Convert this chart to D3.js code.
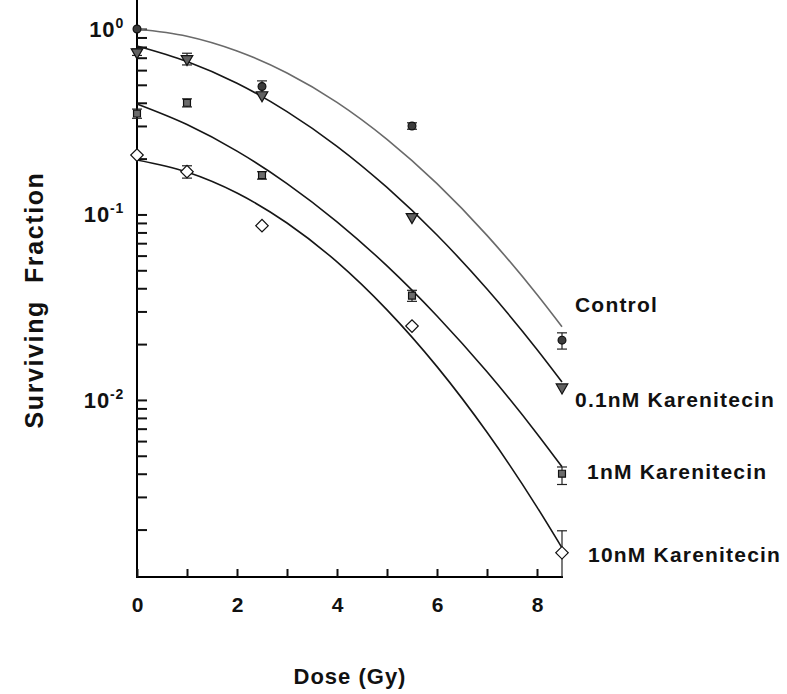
<!DOCTYPE html>
<html>
<head>
<meta charset="utf-8">
<style>
  body { margin: 0; background: #fff; }
  text { font-family: "Liberation Sans", Arial, sans-serif; font-weight: bold; fill: #111; }
</style>
</head>
<body>
<svg id="chart" width="787" height="694"></svg>
<script src="https://cdn.jsdelivr.net/npm/d3@7"></script>
<script>

// measured doses (Gy)
var doses = [0, 1, 2.5, 5.5, 8.5];

var seriesNames = ["Control", "0.1nM Karenitecin", "1nM Karenitecin", "10nM Karenitecin"];

// surviving fraction (null = no point)
var controlSF = [1.0, null, 0.49, 0.30, 0.021];
var nm01SF    = [0.75, 0.69, 0.44, 0.097, 0.0117];
var nm1SF     = [0.35, 0.40, 0.163, 0.0365, 0.0040];
var nm10SF    = [0.209, 0.170, 0.087, 0.025, 0.0015];

// error bar limits [low, high]
var controlErr = [null, null, [0.45, 0.525], [0.288, 0.312], [0.0188, 0.023]];
var nm01Err    = [[0.72, 0.78], [0.64, 0.74], null, null, null];
var nm1Err     = [[0.33, 0.37], [0.38, 0.42], [0.155, 0.17], [0.034, 0.039], [0.0035, 0.00435]];
var nm10Err    = [null, [0.157, 0.183], null, null, [0.0008, 0.00197]];

// fitted curves
var curveDoses = [0, 1, 2, 3, 4, 5, 6, 7, 8, 8.5];
var controlFit = [1.0, 0.914, 0.761, 0.579, 0.402, 0.254, 0.1465, 0.0771, 0.0370, 0.0248];
var nm01Fit    = [0.81, 0.668, 0.510, 0.3586, 0.2331, 0.1398, 0.0775, 0.0396, 0.01873, 0.0125];
var nm1Fit     = [0.394, 0.3053, 0.2196, 0.1468, 0.0913, 0.0528, 0.02836, 0.01417, 0.00658, 0.00436];
var nm10Fit    = [0.1968, 0.1694, 0.1305, 0.0899, 0.0555, 0.0306, 0.01512, 0.00669, 0.002645, 0.001595];

var xTicks = [0, 1, 2, 3, 4, 5, 6, 7, 8];
var yMajor = [1, 0.1, 0.01];
var yMajorExp = ["0", "-1", "-2"];

var svg = d3.select("#chart");

var x = d3.scaleLinear().domain([0, 8.5]).range([137, 562]);
var y = d3.scaleLog().domain([0.00111, 1.433]).range([577, 0]);

var series = [
  {name: seriesNames[0], sf: controlSF, err: controlErr, fit: controlFit, line: "#6a6a6a",
   shape: "circle", fill: "#3c3c3c", lx: 575, ly: 305},
  {name: seriesNames[1], sf: nm01SF, err: nm01Err, fit: nm01Fit, line: "#161616",
   shape: "triangle", fill: "#616161", lx: 575, ly: 400},
  {name: seriesNames[2], sf: nm1SF, err: nm1Err, fit: nm1Fit, line: "#161616",
   shape: "square", fill: "#6c6c6c", lx: 587, ly: 472},
  {name: seriesNames[3], sf: nm10SF, err: nm10Err, fit: nm10Fit, line: "#161616",
   shape: "diamond", fill: "#fff", lx: 588, ly: 555}
];

// axes
var yAxis = d3.axisLeft(y)
    .tickValues(y.ticks().filter(function(d) { return d >= 0.002; }))
    .tickSize(-10)
    .tickFormat("");

svg.append("g")
    .attr("transform", "translate(137,0)")
    .call(yAxis)
    .call(function(g) {
      g.select(".domain").attr("stroke-width", 2).attr("d", "M0,0V577");
      g.selectAll(".tick line").attr("stroke-width", 2).attr("stroke", "#111");
    });

var xAxis = d3.axisBottom(x)
    .tickValues(xTicks)
    .tickSize(-8)
    .tickPadding(20)
    .tickFormat(function(d) { return d % 2 === 0 ? d : ""; });

svg.append("g")
    .attr("transform", "translate(0,577)")
    .call(xAxis)
    .call(function(g) {
      g.select(".domain").attr("stroke-width", 2).attr("d", "M136,0H563");
      g.selectAll(".tick line").attr("stroke-width", 2).attr("stroke", "#111");
      g.selectAll(".tick text")
        .attr("font-size", 21)
        .attr("font-family", "Liberation Sans, Arial, sans-serif")
        .attr("font-weight", "bold")
        .attr("fill", "#111");
    });

var yl = svg.append("g").selectAll("text")
    .data(yMajor)
    .enter().append("text")
      .attr("x", 124)
      .attr("y", function(d) { return y(d) + 8; })
      .attr("text-anchor", "end")
      .attr("font-size", 22)
      .attr("letter-spacing", 0.8);
yl.append("tspan").text("10");
yl.append("tspan")
    .attr("dy", -9)
    .attr("font-size", 14)
    .text(function(d, i) { return yMajorExp[i]; });

// fit curves
var line = d3.line()
    .x(function(d) { return x(d[0]); })
    .y(function(d) { return y(d[1]); })
    .curve(d3.curveMonotoneX);

svg.append("g").selectAll("path")
    .data(series)
    .enter().append("path")
      .attr("fill", "none")
      .attr("stroke", function(d) { return d.line; })
      .attr("stroke-width", 1.6)
      .attr("d", function(d) { return line(curveDoses.map(function(c, i) { return [c, d.fit[i]]; })); });

// error bars
var eb = svg.append("g")
    .attr("stroke", "#222")
    .attr("stroke-width", 1.2);

series.forEach(function(s) {
  s.err.forEach(function(e, i) {
    if (!e) return;
    var cx = x(doses[i]),
        lo = Math.min(y(Math.max(e[0], y.domain()[0])), 577),
        hi = y(e[1]);
    eb.append("line").attr("x1", cx).attr("x2", cx).attr("y1", lo).attr("y2", hi);
    eb.append("line").attr("x1", cx - 5).attr("x2", cx + 5).attr("y1", hi).attr("y2", hi);
    if (e[0] >= y.domain()[0])
      eb.append("line").attr("x1", cx - 5).attr("x2", cx + 5).attr("y1", lo).attr("y2", lo);
  });
});

// markers
var shapes = {
  circle: {type: d3.symbolCircle, size: 48, rot: 0},
  triangle: {type: d3.symbolTriangle, size: 58, rot: 180},
  square: {type: d3.symbolSquare, size: 48, rot: 0},
  diamond: {type: d3.symbolSquare, size: 78, rot: 45}
};

series.forEach(function(s) {
  var sh = shapes[s.shape];
  svg.append("g").selectAll("path")
      .data(s.sf.map(function(v, i) { return [doses[i], v]; }).filter(function(d) { return d[1] != null; }))
      .enter().append("path")
        .attr("d", d3.symbol().type(sh.type).size(sh.size))
        .attr("transform", function(d) { return "translate(" + x(d[0]) + "," + y(d[1]) + ") rotate(" + sh.rot + ")"; })
        .attr("fill", s.fill)
        .attr("stroke", "#111")
        .attr("stroke-width", 1.2);
});

// series labels
svg.append("g").selectAll("text")
    .data(series)
    .enter().append("text")
      .attr("x", function(d) { return d.lx; })
      .attr("y", function(d) { return d.ly; })
      .attr("dy", "0.35em")
      .attr("font-size", 21)
      .attr("letter-spacing", 1.2)
      .text(function(d) { return d.name; });

// axis titles
svg.append("text")
    .attr("x", 350)
    .attr("y", 684)
    .attr("text-anchor", "middle")
    .attr("font-size", 22)
    .attr("letter-spacing", 1)
    .text("Dose (Gy)");

svg.append("text")
    .attr("transform", "translate(43,300) rotate(-90)")
    .attr("text-anchor", "middle")
    .attr("font-size", 25)
    .attr("letter-spacing", 1.6)
    .attr("xml:space", "preserve")
    .text("Surviving  Fraction");
</script>
</body>
</html>
